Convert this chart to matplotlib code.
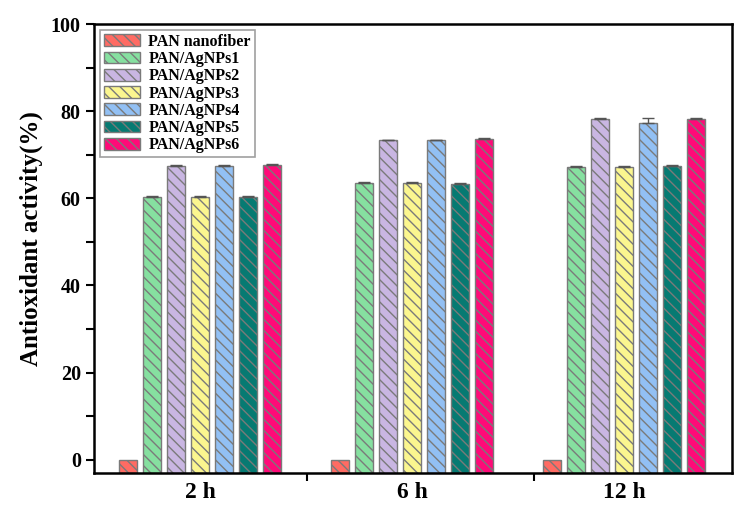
import matplotlib
matplotlib.use("Agg")
import matplotlib.pyplot as plt
import numpy as np

plt.rcParams['font.family'] = ['Liberation Serif', 'DejaVu Serif']
plt.rcParams['font.weight'] = 'bold'
plt.rcParams['hatch.color'] = '#4a4a4a'
plt.rcParams['hatch.linewidth'] = 1.0

groups = ['2 h', '6 h', '12 h']
series = ['PAN nanofiber', 'PAN/AgNPs1', 'PAN/AgNPs2', 'PAN/AgNPs3',
          'PAN/AgNPs4', 'PAN/AgNPs5', 'PAN/AgNPs6']
values = {
    'PAN nanofiber': [0.0, 0.0, 0.0],
    'PAN/AgNPs1': [60.3, 63.5, 67.3],
    'PAN/AgNPs2': [67.5, 73.3, 78.3],
    'PAN/AgNPs3': [60.3, 63.5, 67.3],
    'PAN/AgNPs4': [67.5, 73.3, 77.2],
    'PAN/AgNPs5': [60.3, 63.4, 67.4],
    'PAN/AgNPs6': [67.6, 73.6, 78.3],
}
errors = {
    'PAN nanofiber': [0.0, 0.0, 0.0],
    'PAN/AgNPs1': [0.2, 0.2, 0.2],
    'PAN/AgNPs2': [0.2, 0.2, 0.2],
    'PAN/AgNPs3': [0.2, 0.2, 0.2],
    'PAN/AgNPs4': [0.2, 0.2, 1.2],
    'PAN/AgNPs5': [0.2, 0.2, 0.3],
    'PAN/AgNPs6': [0.2, 0.2, 0.2],
}
colors = ['#ff6b63', '#86e0a0', '#c9b6e2', '#fbf68f', '#92c0f4', '#067a72', '#ff0a78']

ymin = -3
fig = plt.figure(figsize=(7.46, 5.12), dpi=100)
ax = fig.add_axes([0.126, 0.0768, 0.855, 0.876])

x = np.arange(len(groups))
step = 24 / 212
width = 18 / 212
for i, (s, c) in enumerate(zip(series, colors)):
    pos = x + (i - 3) * step
    v = np.array(values[s])
    ax.bar(pos, v - ymin, bottom=ymin, width=width, color=c, edgecolor='#7a7a7a',
           linewidth=1.0, hatch='\\\\\\', label=s, zorder=2)
    e = np.array(errors[s])
    mask = e > 0
    ax.errorbar(pos[mask], v[mask], yerr=[np.zeros(mask.sum()), e[mask]], fmt='none',
                ecolor='#555555', elinewidth=1.0, capsize=4, capthick=1.0, zorder=3)

ax.set_xlim(-0.502, 2.508)
ax.set_ylim(ymin, 100)
ax.set_yticks([0, 20, 40, 60, 80, 100])
ax.set_yticks([10, 30, 50, 70, 90], minor=True)
ax.set_xticks(x)
ax.set_xticklabels(groups, fontsize=17, fontweight='bold')
ax.set_xticks([0.503, 1.574], minor=True)
ax.tick_params(axis='x', which='major', length=0, pad=7)
ax.tick_params(axis='x', which='minor', length=6, width=1.5, direction='out')
ax.tick_params(axis='y', which='major', length=6, width=1.5, direction='out', labelsize=14.5)
ax.tick_params(axis='y', which='minor', length=6, width=1.5, direction='out')
for lab in ax.get_yticklabels():
    lab.set_fontweight('bold')
for sp in ax.spines.values():
    sp.set_linewidth(1.8)

ax.set_ylabel('Antioxidant activity(%)', fontsize=18, fontweight='bold')
ax.yaxis.set_label_coords(-0.080, 0.523)

leg = ax.legend(loc='upper left', bbox_to_anchor=(0.0, 1.0), fontsize=11.5,
                frameon=True, fancybox=False, edgecolor='#888888',
                handlelength=2.3, handleheight=0.75, labelspacing=0.08,
                borderpad=0.25, handletextpad=0.5, borderaxespad=0.35)
leg.get_frame().set_linewidth(1.2)
for t in leg.get_texts():
    t.set_fontweight('bold')

fig.savefig('out.png', dpi=100)
